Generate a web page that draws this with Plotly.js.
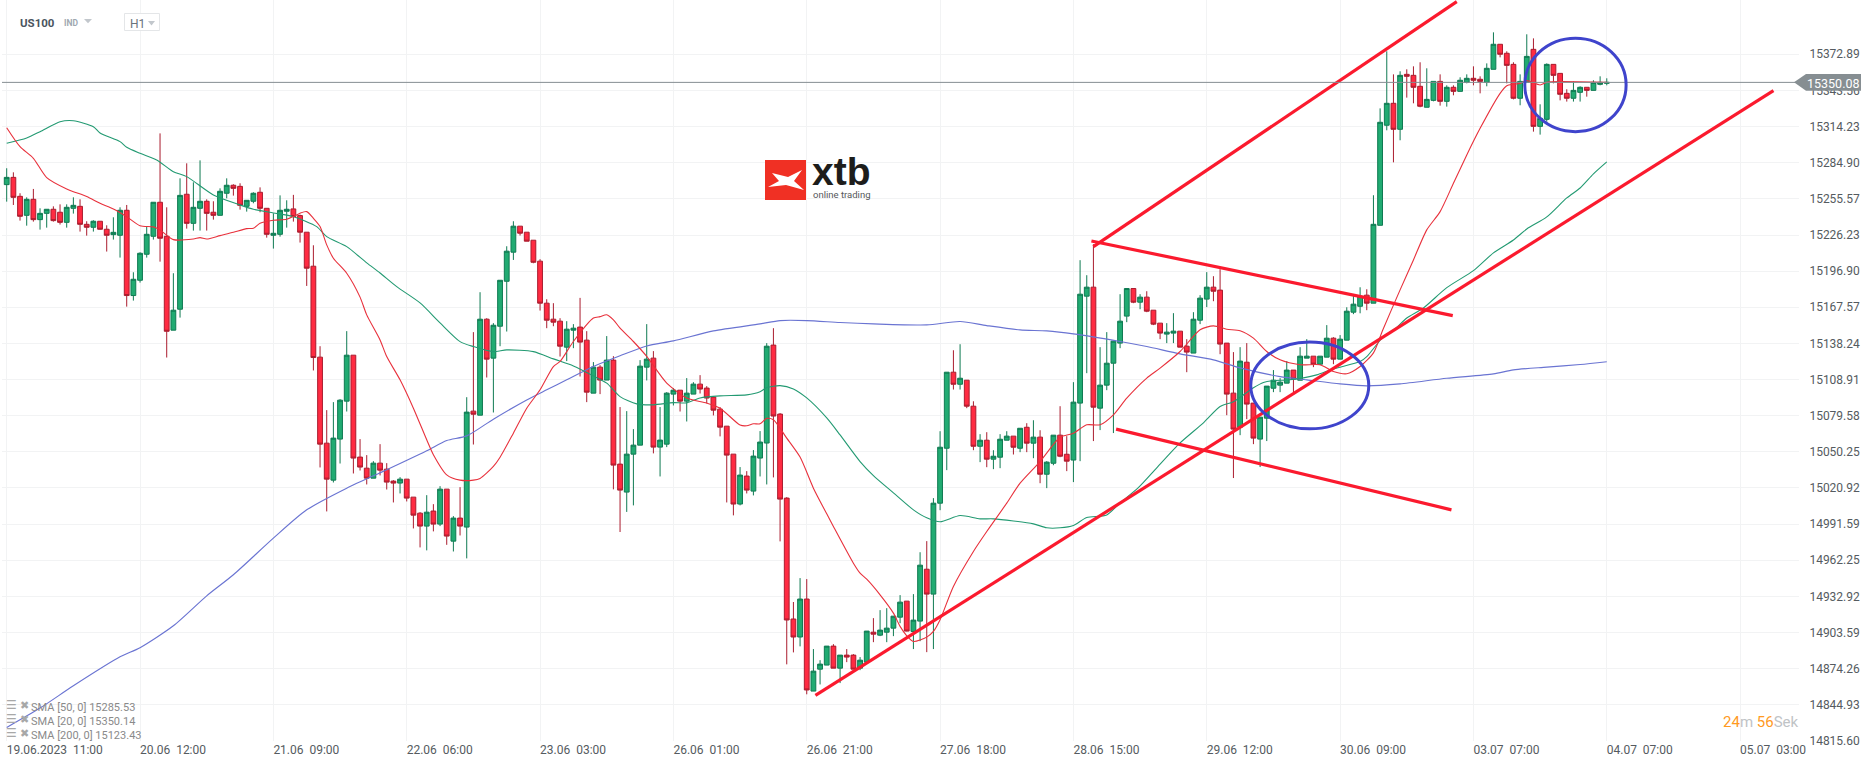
<!DOCTYPE html>
<html><head><meta charset="utf-8">
<script src="https://cdn.plot.ly/plotly-3.0.1.min.js"></script>
<style>html,body{margin:0;padding:0;background:#fff}#c{width:1866px;height:767px}</style>
</head><body><div id="c"></div>
<script>
// ---------- data (US100 H1, candle index 0..240) ----------
const opens=[15267.1,15273.0,15257.6,15242.2,15255.2,15238.7,15243.8,15247.1,15244.7,15236.5,
15247.9,15249.5,15234.9,15232.5,15237.4,15230.9,15226.5,15226.0,15246.3,15177.1,
15189.5,15210.6,15225.2,15252.8,15225.2,15149.0,15166.0,15259.3,15235.7,15247.9,
15253.6,15244.7,15242.2,15260.1,15266.6,15265.7,15249.5,15253.6,15260.9,15247.9,
15226.0,15226.8,15245.5,15247.4,15242.0,15228.5,15200.9,15127.1,15057.3,15027.3,
15060.6,15091.4,15128.7,15046.0,15037.0,15028.9,15041.1,15036.2,15026.5,15024.9,
15028.1,15013.5,15000.5,14990.0,15002.2,14991.6,15020.0,14977.8,14996.5,14989.2,
15083.3,15080.0,15157.9,15126.3,15152.2,15188.7,15212.3,15233.4,15228.5,15222.0,
15205.0,15170.9,15157.9,15156.3,15135.2,15149.0,15151.5,15140.9,15097.9,15119.0,
15108.5,15124.7,15040.3,15017.6,15048.4,15055.7,15119.0,15126.3,15054.1,15056.5,
15097.1,15100.3,15091.4,15097.1,15105.2,15102.0,15094.7,15084.9,15071.1,15048.4,
15007.9,15030.6,15018.4,15045.2,15057.4,15136.9,15080.9,15012.7,14914.6,14900.0,
14930.8,14856.1,14873.9,14877.2,14892.6,14874.7,14885.3,14885.3,14874.7,14879.6,
14903.9,14901.5,14903.9,14907.2,14916.1,14929.1,14904.5,14912.9,14955.0,14934.8,
15008.6,15053.2,15114.9,15105.1,15108.4,15087.3,15054.8,15059.7,15044.3,15045.9,
15059.7,15063.0,15053.2,15070.2,15057.3,15062.2,15032.1,15041.0,15063.8,15048.3,
15043.6,15089.8,15176.6,15183.9,15085.7,15104.4,15122.2,15138.5,15160.4,15182.8,
15171.7,15175.8,15165.2,15154.7,15145.8,15146.6,15148.2,15136.0,15130.4,15157.1,
15174.2,15183.9,15181.5,15138.5,15097.9,15070.3,15123.0,15089.8,15060.6,15077.6,
15101.9,15104.4,15106.0,15116.6,15108.4,15126.3,15127.9,15121.4,15127.1,15142.5,
15125.5,15140.9,15163.6,15168.4,15177.4,15170.9,15234.1,15315.3,15333.1,15312.0,
15356.6,15355.8,15346.9,15329.9,15335.5,15350.9,15334.7,15346.1,15342.8,15350.1,
15353.4,15352.6,15350.1,15360.7,15381.0,15373.7,15364.7,15337.2,15350.1,15376.9,
15314.4,15320.1,15364.7,15357.4,15341.2,15337.2,15342.0,15346.1,15343.6,15348.5,15349.3];
const highs=[15280.4,15277.1,15260.1,15256.8,15263.6,15247.9,15247.1,15249.5,15251.1,15251.1,
15256.8,15255.2,15237.4,15238.2,15237.4,15234.1,15240.6,15248.7,15250.6,15196.0,
15212.2,15233.3,15252.8,15308.7,15248.7,15195.2,15272.2,15284.4,15269.0,15286.8,
15255.2,15253.6,15264.1,15272.2,15267.4,15268.2,15254.4,15260.9,15264.9,15247.9,
15243.8,15258.4,15254.4,15258.8,15242.8,15228.5,15217.9,15136.0,15084.1,15090.6,
15093.0,15148.2,15128.7,15060.6,15047.6,15042.7,15056.5,15041.1,15027.3,15029.7,
15028.1,15013.5,15001.3,15015.1,15007.8,15022.4,15020.0,14998.1,15021.6,15094.6,
15147.4,15179.8,15158.7,15154.7,15189.5,15217.1,15237.4,15233.4,15228.5,15222.0,
15206.6,15174.1,15170.9,15158.7,15156.3,15153.9,15175.2,15148.2,15123.1,15120.6,
15144.2,15127.9,15086.6,15083.3,15068.7,15124.7,15153.9,15132.0,15086.6,15098.7,
15102.0,15100.3,15110.1,15106.8,15112.5,15103.6,15095.5,15086.6,15071.1,15048.4,
15037.9,15034.6,15051.7,15067.1,15138.5,15150.6,15081.7,15013.5,14928.4,14947.8,
14947.0,14890.2,14881.2,14892.6,14894.2,14885.3,14890.2,14886.1,14883.7,14904.8,
14915.3,14921.8,14923.4,14916.9,14934.0,14929.1,14934.8,14968.8,14977.8,15012.7,
15067.0,15114.9,15132.7,15137.6,15108.4,15091.3,15064.6,15066.2,15051.6,15064.6,
15067.0,15063.0,15069.4,15073.5,15075.9,15067.8,15042.7,15063.8,15087.3,15063.0,
15106.8,15205.8,15193.6,15218.8,15135.2,15147.4,15140.1,15178.2,15183.1,15182.8,
15178.2,15180.6,15165.2,15154.7,15154.7,15162.8,15148.2,15141.7,15163.6,15177.4,
15196.1,15192.8,15198.5,15138.5,15131.2,15135.2,15138.5,15089.8,15078.4,15103.6,
15116.6,15110.1,15123.9,15116.6,15135.2,15141.7,15127.9,15127.9,15153.1,15143.3,
15145.0,15167.6,15178.2,15183.8,15182.2,15258.5,15329.0,15375.3,15356.6,15359.1,
15360.7,15363.1,15366.4,15361.5,15350.9,15356.6,15347.7,15347.7,15354.2,15356.6,
15363.1,15355.0,15365.5,15390.7,15381.0,15375.3,15366.4,15356.6,15389.1,15385.8,
15332.3,15365.5,15364.7,15357.4,15344.5,15350.9,15346.9,15346.1,15351.8,15355.0,15353.4];
const lows=[15253.3,15250.6,15237.9,15233.8,15237.1,15230.6,15232.2,15237.1,15234.7,15232.2,
15243.6,15229.0,15225.7,15229.0,15230.6,15212.8,15222.5,15207.9,15168.1,15173.0,
15187.6,15207.9,15222.5,15204.6,15126.8,15149.0,15159.2,15231.4,15229.8,15229.8,
15229.8,15238.7,15242.2,15256.0,15258.2,15246.8,15245.2,15252.0,15244.7,15224.1,
15215.2,15224.9,15232.2,15237.1,15220.1,15184.9,15116.3,15037.6,15001.9,15025.4,
15040.8,15083.0,15032.7,15035.1,15023.8,15028.9,15031.1,15019.7,15009.2,15016.5,
15010.0,14988.1,14972.7,14970.3,14985.7,14990.0,14974.8,14969.4,14982.4,14963.8,
15056.2,15080.0,15110.6,15082.2,15136.0,15147.9,15206.0,15225.8,15221.2,15203.3,
15164.9,15150.6,15152.2,15127.6,15123.9,15134.4,15111.4,15090.6,15097.9,15097.1,
15108.5,15019.8,14985.2,15001.5,15006.8,15055.7,15108.2,15049.0,15030.3,15054.1,
15087.9,15083.0,15074.9,15097.1,15097.6,15089.8,15079.8,15062.8,15009.2,14998.7,
15006.8,15016.5,15014.9,15030.3,15023.8,15029.5,14977.6,14877.8,14887.5,14892.4,
14853.5,14856.1,14861.5,14877.2,14874.7,14862.6,14879.6,14873.9,14873.1,14879.6,
14895.8,14900.7,14895.8,14900.7,14911.2,14904.5,14890.2,14896.6,14887.7,14890.2,
15002.9,15035.4,15100.8,15100.8,15085.7,15051.6,15041.9,15037.8,15036.2,15037.0,
15059.7,15048.1,15050.0,15050.0,15045.1,15024.8,15020.8,15039.4,15045.9,15034.6,
15025.7,15042.7,15114.1,15059.0,15067.9,15100.3,15065.5,15134.4,15155.5,15170.9,
15166.0,15163.6,15153.1,15141.7,15138.5,15138.5,15135.2,15114.9,15130.4,15153.9,
15167.7,15172.5,15129.5,15080.0,15029.0,15063.8,15076.8,15056.5,15037.9,15059.0,
15098.7,15098.7,15106.0,15098.7,15108.4,15126.3,15119.0,15120.6,15127.1,15121.4,
15125.5,15140.9,15162.0,15162.7,15165.2,15170.9,15234.1,15311.2,15285.2,15303.1,
15337.7,15333.1,15329.9,15329.9,15334.7,15331.2,15330.4,15339.6,15342.8,15349.3,
15347.7,15341.2,15346.9,15360.7,15370.4,15349.3,15336.3,15331.5,15350.1,15310.1,
15307.7,15318.2,15349.3,15335.5,15334.5,15334.5,15334.5,15338.5,15343.6,15347.7,15347.7];
const closes=[15273.0,15256.8,15241.4,15255.2,15238.7,15243.8,15247.1,15237.9,15236.5,15248.7,
15250.3,15234.9,15232.5,15237.4,15230.9,15226.0,15228.4,15246.3,15177.1,15190.3,
15211.4,15226.8,15252.8,15223.6,15148.1,15165.2,15258.4,15235.7,15248.7,15253.6,
15243.8,15242.2,15261.7,15266.6,15264.1,15250.3,15254.4,15260.1,15247.9,15226.8,
15227.6,15246.3,15247.1,15241.2,15228.5,15199.3,15126.8,15056.5,15028.1,15061.4,
15092.2,15128.7,15045.2,15037.9,15028.9,15041.1,15035.4,15025.7,15024.9,15028.1,
15012.7,14998.9,14990.0,15001.3,14991.6,15020.0,14981.9,14996.5,14990.0,15082.5,
15080.8,15157.9,15125.5,15153.0,15189.5,15213.1,15233.4,15227.7,15221.2,15204.1,
15170.9,15157.1,15155.5,15136.0,15149.8,15150.6,15139.3,15098.7,15119.0,15108.5,
15124.7,15039.5,15019.2,15048.4,15055.7,15119.8,15125.5,15054.1,15059.8,15097.9,
15100.3,15091.4,15097.9,15105.2,15101.2,15093.9,15084.1,15070.3,15047.6,15007.9,
15031.4,15019.2,15046.8,15058.2,15136.0,15079.3,15011.9,14913.8,14900.0,14930.8,
14857.0,14872.3,14878.0,14892.6,14874.7,14885.3,14883.7,14873.9,14881.2,14904.8,
14902.3,14905.6,14907.2,14916.9,14928.3,14904.8,14913.7,14958.3,14934.8,15008.6,
15054.0,15114.9,15105.1,15110.0,15087.3,15054.8,15059.7,15044.3,15046.7,15060.5,
15063.0,15054.0,15069.4,15057.3,15062.2,15032.1,15041.9,15063.8,15046.7,15042.7,
15090.6,15178.2,15183.9,15086.5,15104.4,15122.2,15140.1,15156.3,15182.8,15171.7,
15175.8,15164.4,15153.9,15146.6,15147.4,15148.2,15135.2,15131.2,15157.9,15175.0,
15183.9,15180.6,15137.7,15097.1,15068.7,15123.9,15089.0,15061.4,15078.4,15103.6,
15108.4,15106.8,15116.6,15109.3,15127.9,15127.9,15121.4,15127.9,15142.5,15125.5,
15141.7,15164.4,15170.1,15176.5,15170.9,15234.9,15317.7,15333.1,15312.0,15355.8,
15355.0,15346.1,15330.7,15336.3,15350.9,15334.7,15346.1,15342.8,15351.8,15353.4,
15351.8,15350.9,15361.5,15381.0,15372.9,15363.9,15337.2,15350.9,15371.2,15314.4,
15320.9,15364.7,15355.8,15340.4,15337.2,15343.6,15346.1,15343.6,15350.1,15350.1,15350.08];

const sma200X=[0,5,10,17,20,25,30,34,40,45,51,57,63,66,69,73,78,81,84,88,92,96,100,106,113,116,120,125,130,138,143,147,152,156,160,167,171,176,181,185,191,195,200,204,209,216,223,226,231,236,240];
const sma200Y=[14826.6,14842.3,14860.4,14883.9,14891.3,14909.1,14933.4,14950.5,14980.2,15003.2,15020.8,15035.7,15051.1,15059.4,15063.2,15076.8,15092.4,15100.6,15108.7,15119.5,15128.2,15136.2,15140.3,15148.4,15154.1,15156.8,15156.8,15155.2,15154.1,15153.3,15156.0,15152.7,15149.2,15148.4,15146.0,15139.8,15135.7,15129.8,15124.9,15118.4,15111.3,15108.7,15105.4,15103.8,15105.4,15110.0,15113.5,15116.8,15119.0,15121.1,15123.4];

const sma20X=[0,2,4,6,9,12,14,16,18,20,22,23,25,28,29,30,32,34,36,37,38,40,42,43,44,45,46,47,48,49,51,53,54,56,57,59,61,63,64,66,68,70,71,73,74,76,78,80,82,83,85,88,89,90,91,92,94,96,99,102,105,107,110,111,112,113,114,115,117,119,121,123,124,127,128,129,131,133,134,135,136,138,139,140,142,145,147,150,152,155,158,160,162,164,166,168,171,173,176,179,181,183,185,187,189,191,194,197,199,201,203,205,206.4,209,211,213,215,217,219,221,224,225,226,227,228,230,231,233,240];
const sma20Y=[15313.3,15297.9,15288.5,15272.8,15263.6,15257.4,15252.0,15247.4,15241.1,15233.8,15232.8,15230.3,15222.5,15223.0,15224.1,15223.0,15225.7,15228.4,15231.4,15231.7,15235.7,15238.2,15239.0,15241.2,15243.9,15245.2,15239.8,15233.1,15218.2,15207.4,15195.2,15175.8,15161.4,15141.1,15127.6,15108.7,15085.7,15060.0,15047.9,15031.6,15027.3,15027.3,15028.7,15038.4,15045.9,15065.4,15085.7,15100.6,15119.5,15123.6,15139.8,15158.8,15160.0,15161.5,15157.4,15150.6,15139.8,15127.7,15106.0,15093.9,15089.8,15085.7,15072.0,15071.4,15073.0,15073.0,15077.4,15076.3,15061.4,15046.0,15020.8,15000.0,14989.7,14959.9,14951.8,14946.9,14934.2,14919.4,14908.6,14901.0,14896.4,14899.9,14904.5,14914.0,14941.0,14969.4,14985.6,15008.6,15024.8,15042.4,15062.1,15065.4,15072.2,15072.2,15080.3,15093.8,15110.1,15118.2,15131.7,15149.3,15152.5,15149.8,15148.5,15142.5,15131.7,15124.9,15120.9,15120.9,15115.5,15113.6,15119.5,15130.6,15149.2,15181.7,15206.0,15230.4,15245.2,15268.2,15291.2,15312.8,15341.2,15347.4,15348.5,15349.3,15351.5,15348.0,15350.1,15350.7,15350.1];

const sma50X=[0,3,5,8,10,13,14,17,18,20,22.5,25,27,31,35,37,40,43,46.5,48,51,54,56,58.5,62,65,68,70,73,75,79,82,85,88,90,92,94.5,97,100,102,104,107,111,113,114,116,118,120,123,125,128,130,133,136,138,140,143,146,148,154,156,158,160,162,165,167,169.7,172.5,176,179.5,182,184,187,188.5,190,192,194.5,196.5,199,203,204,206.5,208.4,210,212.5,216,220,223,226,228,231,234,236,238,240];
const sma50Y=[15300.7,15305.0,15310.1,15318.2,15319.0,15314.1,15309.0,15302.0,15297.4,15292.5,15287.1,15277.6,15273.6,15258.7,15250.6,15247.1,15244.1,15241.1,15233.0,15224.9,15216.8,15203.6,15195.4,15184.3,15171.1,15154.9,15139.7,15135.7,15131.6,15133.0,15131.6,15125.7,15120.0,15111.9,15106.0,15095.1,15089.2,15088.4,15090.2,15090.0,15094.0,15095.7,15096.5,15099.1,15102.4,15104.0,15101.3,15094.0,15077.8,15064.0,15042.4,15031.0,15017.0,15003.2,14996.7,14993.5,14998.6,14995.9,14995.9,14991.8,14988.6,14988.6,14990.5,14996.9,14999.1,15008.9,15021.0,15037.3,15057.5,15073.8,15087.0,15091.0,15102.2,15106.5,15108.1,15108.6,15110.3,15112.7,15117.6,15123.5,15127.5,15143.8,15150.8,15158.9,15167.0,15183.5,15197.3,15211.7,15222.2,15231.1,15240.9,15256.3,15264.4,15275.8,15285.5];

// hand-drawn trend lines: [x start, x end], [price start, price end]
const supportX=[121.3,265], supportY=[14852.6,15343.4];
const channelUpX=[163,217.5], channelUpY=[15216.8,15415.6];
const flagTopX=[162.7,216.9], flagTopY=[15221.4,15160.8];
const flagBottomX=[166.4,216.7], flagBottomY=[15068.7,15003.2];
// hand-drawn ellipses: x range, price range
const ellipse1X=[186.6,204.3], ellipse1Y=[15068.9,15139.3];
const ellipse2X=[227.7,242.9], ellipse2Y=[15310.1,15385.9];

const xTickIdx=[0,20,40,60,80,100,120,140,160,180,200,220,240,260];
const xTickText=["19.06.2023  11:00","20.06  12:00","21.06  09:00","22.06  06:00","23.06  03:00","26.06  01:00","26.06  21:00","27.06  18:00","28.06  15:00","29.06  12:00","30.06  09:00","03.07  07:00","04.07  07:00","05.07  03:00"].map(s=>s.replace(/  /g,"\u00a0\u00a0"));
const yTicks=[14815.60,14844.93,14874.26,14903.59,14932.92,14962.25,14991.59,15020.92,15050.25,15079.58,15108.91,15138.24,15167.57,15196.90,15226.23,15255.57,15284.90,15314.23,15343.56,15372.89];
const lastPrice=15350.08;
const legendTexts=["SMA [50, 0] 15285.53","SMA [20, 0] 15350.14","SMA [200, 0] 15123.43"];

// ---------- layout geometry ----------
const W=1866,H=767,mL=2,mR=67,mT=0,mB=25.7;
const px=x=>(x-mL)/(W-mL-mR), py=y=>1-(y-mT)/(H-mT-mB);
const FONT="Roboto, sans-serif";
const x0=(2-6.7)/6.667, x1=(1799-6.7)/6.667;
const yTop=15372.89+(54.3-mT)*0.8112;

const candles={type:"candlestick",x:opens.map((_,i)=>i),open:opens,high:highs,low:lows,close:closes,
  increasing:{line:{color:"#0f7a52",width:1},fillcolor:"#21ab72"},
  decreasing:{line:{color:"#aa1c2e",width:1},fillcolor:"#ff2b42"},
  whiskerwidth:0,hoverinfo:"skip",showlegend:false};
const line=(x,y,color,width,smooth)=>({type:"scatter",mode:"lines",x,y,line:Object.assign({color,width,simplify:false},smooth?{shape:"spline",smoothing:0.7}:{}),hoverinfo:"skip",showlegend:false});
const traces=[
  line(sma200X,sma200Y,"#6a74d2",1.15,true),
  candles,
  line(sma50X,sma50Y,"#239a72",1.1,true),
  line(sma20X,sma20Y,"#e8313c",1.1,true),
  line(supportX,supportY,"#fb1a2e",3.2),
  line(channelUpX,channelUpY,"#fb1a2e",3.2),
  line(flagTopX,flagTopY,"#fb1a2e",3.2),
  line(flagBottomX,flagBottomY,"#fb1a2e",3.2)
];

const rectPaper=(x,y,w,h,fill,lineColor,layer)=>({type:"rect",xref:"paper",yref:"paper",x0:px(x),x1:px(x+w),y0:py(y+h),y1:py(y),fillcolor:fill,line:{color:lineColor||fill,width:lineColor?1:0},layer:layer||"above"});
const polyPaper=(pts,fill,layer)=>({type:"path",xref:"paper",yref:"paper",path:"M"+pts.map(p=>px(p[0])+","+py(p[1])).join("L")+"Z",fillcolor:fill,line:{width:0},layer:layer||"above"});

const shapes=[
  rectPaper(0,0,1800,18,"#ffffff",null,"below"),
  rectPaper(752,152,130,58,"#ffffff",null,"below"),
  {type:"line",xref:"paper",yref:"y",x0:0,x1:px(1796),y0:lastPrice,y1:lastPrice,line:{color:"#868e92",width:1},layer:"above"},
  {type:"circle",xref:"x",yref:"y",x0:ellipse1X[0],x1:ellipse1X[1],y0:ellipse1Y[0],y1:ellipse1Y[1],line:{color:"#3f44cc",width:3},layer:"above"},
  {type:"circle",xref:"x",yref:"y",x0:ellipse2X[0],x1:ellipse2X[1],y0:ellipse2Y[0],y1:ellipse2Y[1],line:{color:"#3f44cc",width:3},layer:"above"},
  polyPaper([[1794,82.4],[1806,74],[1861,74],[1861,90.7],[1806,90.7]],"#868e92"),
  rectPaper(765,160,41,40,"#f03024"),
  polyPaper([[772,173],[788,177],[802,170],[794,181],[804,190],[786,185],[768,187],[779,181]],"#ffffff"),
  rectPaper(124.5,13.5,35,17,"#ffffff","#e4e6e8"),
  polyPaper([[84,19],[92,19],[88,23.3]],"#c2c7cc"),
  polyPaper([[148,21],[155,21],[151.5,25.5]],"#c2c7cc")
];

const ann=(x,y,text,size,color,anchor,family)=>({xref:"paper",yref:"paper",x:px(x),y:py(y),text,showarrow:false,xanchor:anchor||"left",yanchor:"middle",font:{family:family||FONT,size,color},borderpad:0,borderwidth:0});
const annotations=[
  ann(20,23.5,"<b>US100</b>",11.5,"#4a5560"),
  ann(64,23.5,"<b>IND</b>",8.5,"#9fa8b0"),
  ann(130,24,"H1",12,"#6a737b"),
  ann(812,172,"<b>xtb</b>",39,"#1d1d1b","left","Liberation Sans"),
  ann(813,194.5,"online trading",9.5,"#55585a"),
  ann(1833.5,83.3,String(lastPrice.toFixed(2)),12.5,"#ffffff","center"),
  ann(1723,722,'<span style="color:#ff9a1f">24</span><span style="color:#bfc3c6">m</span> <span style="color:#ff9a1f">56</span><span style="color:#bfc3c6">Sek</span>',15,"#ff9a1f"),
];
legendTexts.forEach((t,i)=>{
  const y=707.5+14*i;
  annotations.push(ann(31,y,t,11,"#8a8a8a"));
  annotations.push(ann(6,y-2,"☰",12,"#a8a8a8","left","DejaVu Sans"));
  annotations.push(ann(20,y-2,"✖",11,"#a8a8a8","left","DejaVu Sans"));
});

const layout={
  width:W,height:H,margin:{l:mL,r:mR,t:mT,b:mB,pad:0},paper_bgcolor:"#fff",plot_bgcolor:"#fff",
  showlegend:false,boxgap:0.28,boxgroupgap:0,dragmode:false,
  font:{family:FONT,color:"#555"},
  xaxis:{type:"linear",range:[x0,x1],tickmode:"array",tickvals:xTickIdx,ticktext:xTickText,showgrid:true,gridcolor:"#f2f3f4",gridwidth:1,
    zeroline:false,showline:false,ticks:"",ticklabelposition:"outside right",tickfont:{family:FONT,size:12,color:"#555b60"},rangeslider:{visible:false},fixedrange:true,automargin:false},
  yaxis:{type:"linear",side:"right",range:[14815.6,yTop],tickmode:"array",tickvals:yTicks,ticktext:yTicks.map(v=>v.toFixed(2)),showgrid:true,gridcolor:"#f2f3f4",gridwidth:1,
    zeroline:false,showline:false,ticks:"outside",ticklen:7,tickcolor:"rgba(0,0,0,0)",tickfont:{family:FONT,size:12,color:"#555b60"},fixedrange:true,automargin:false},
  shapes,annotations
};
Plotly.newPlot("c",traces,layout,{staticPlot:true,displayModeBar:false});
</script></body></html>
